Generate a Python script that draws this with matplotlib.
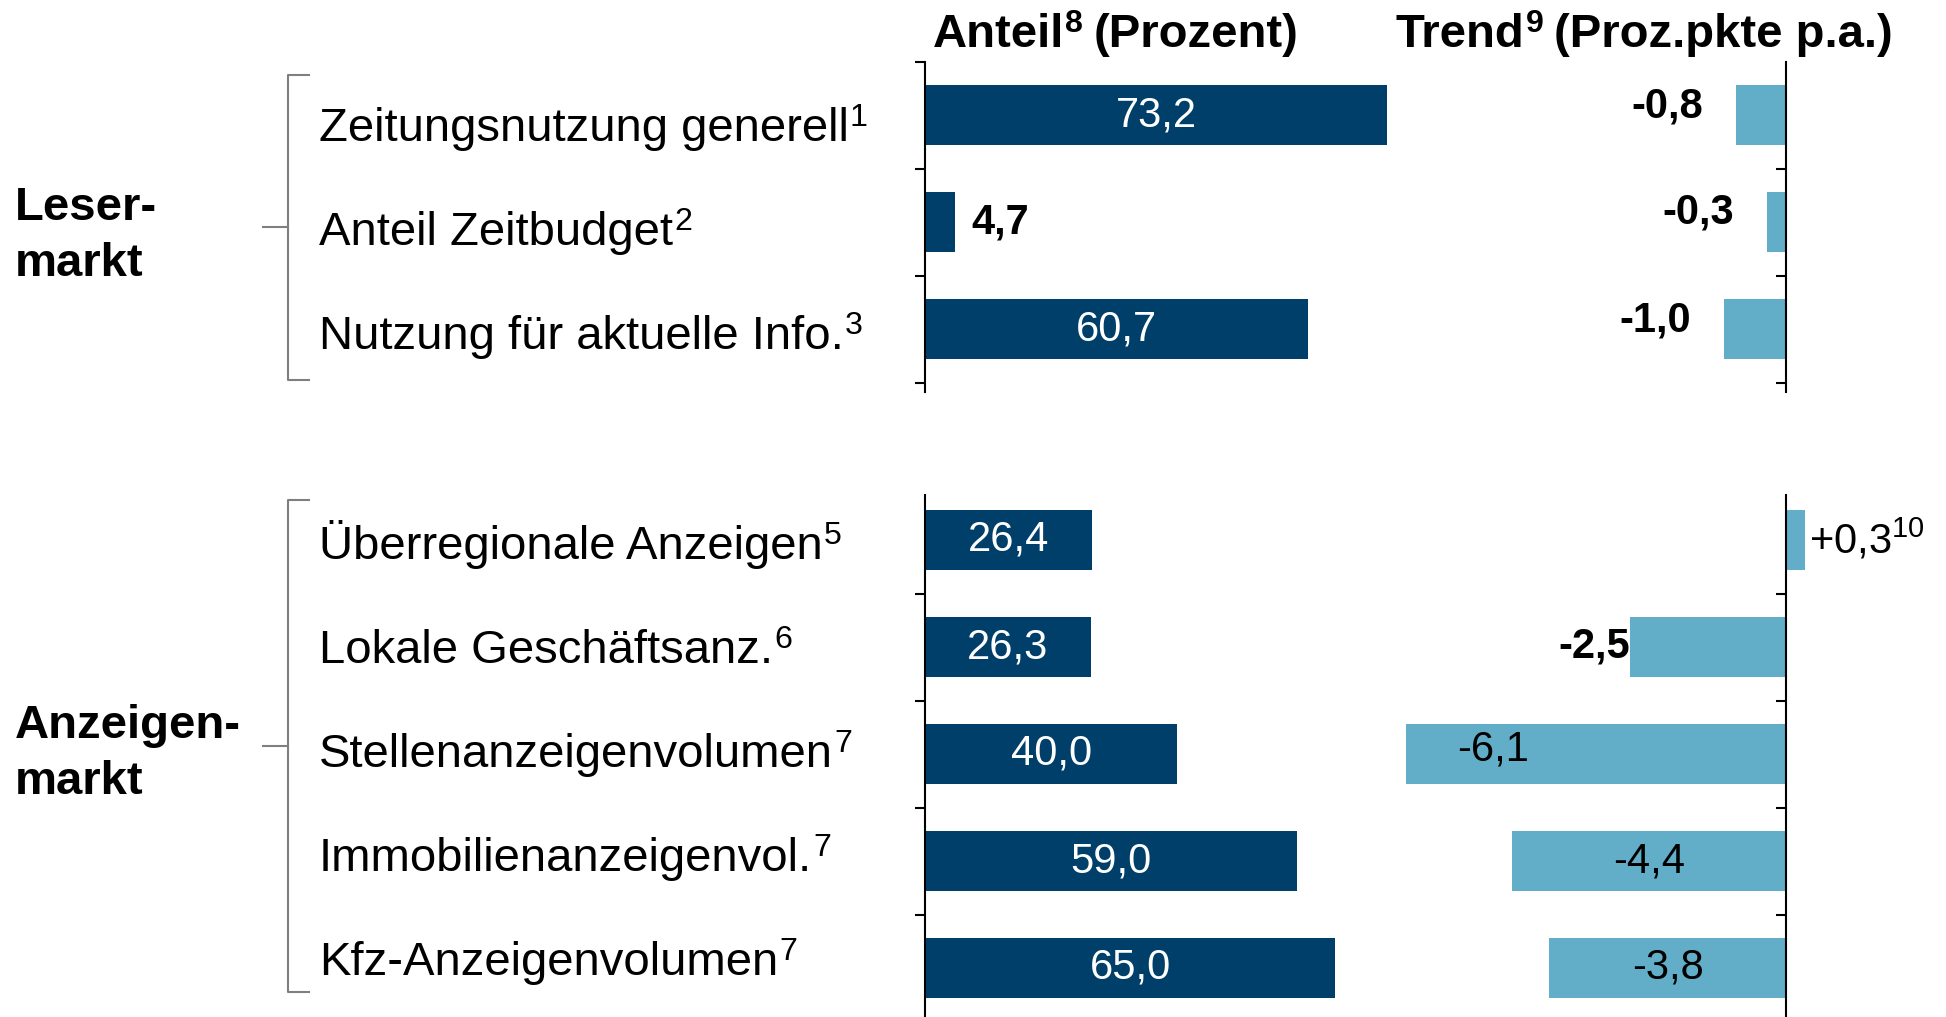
import matplotlib.pyplot as plt
from matplotlib.lines import Line2D

plt.rcParams['font.family'] = ['Liberation Sans', 'DejaVu Sans']
plt.rcParams['mathtext.fontset'] = 'custom'
plt.rcParams['mathtext.rm'] = 'Liberation Sans'
plt.rcParams['mathtext.bf'] = 'Liberation Sans:bold'

# Daten
leser_labels = ['Zeitungsnutzung generell', 'Anteil Zeitbudget', 'Nutzung für aktuelle Info.']
leser_notes = ['1', '2', '3']
leser_anteil = [73.2, 4.7, 60.7]
leser_trend = [-0.8, -0.3, -1.0]

anz_labels = ['Überregionale Anzeigen', 'Lokale Geschäftsanz.', 'Stellenanzeigenvolumen',
              'Immobilienanzeigenvol.', 'Kfz-Anzeigenvolumen']
anz_notes = ['5', '6', '7', '7', '7']
anz_anteil = [26.4, 26.3, 40.0, 59.0, 65.0]
anz_trend = [0.3, -2.5, -6.1, -4.4, -3.8]

# wie die Trend-Werte beschriftet sind
leser_modes = ['out', 'out', 'out']
anz_modes = ['sup', 'edge', 'inleft', 'center', 'center']

NAVY = '#003F6A'
LIGHT = '#62ADC8'
W, H = 1946, 1017
STEP = 107
LSTEP = 104
PT = 0.72  # px -> pt

fig = plt.figure(figsize=(W / 100, H / 100), dpi=100)
renderer = fig.canvas.get_renderer()


def sup_text(x, y, main, sup, size, weight='normal'):
    # Text mit Fussnote hochgestellt, x/y in Pixel (Grundlinie)
    t = fig.text(x / W, 1 - y / H, main, fontsize=size, fontweight=weight, va='baseline')
    bb = t.get_window_extent(renderer)
    em = size * 100 / 72
    s = fig.text((bb.x1 + 1) / W, 1 - (y - 0.32 * em) / H, sup, fontsize=size * 0.68,
                 fontweight=weight, va='baseline')
    return s


def add_ax(x0, y0, x1, y1):
    ax = fig.add_axes([x0 / W, 1 - y1 / H, (x1 - x0) / W, (y1 - y0) / H])
    ax.set_facecolor('none')
    for s in ['top', 'right', 'bottom']:
        ax.spines[s].set_visible(False)
    ax.spines['left'].set_linewidth(1.5)
    ax.tick_params(axis='y', direction='out', length=7, width=1.5, labelleft=False)
    ax.tick_params(axis='x', bottom=False, labelbottom=False)
    return ax


def fmt(v):
    return f'{v:.1f}'.replace('.', ',')


def panel(y0, y1, row0, lab0, labels, notes, anteil, trend, modes, top_tick):
    n = len(labels)
    d0 = (y0 - row0) / STEP
    d1 = (y1 - row0) / STEP
    ticks = [i + 0.5 for i in range(n)]
    ticks = [t for t in ticks if t < d1]

    # Anteil
    ax = add_ax(925, y0, 1430, y1)
    ax.set_xlim(0, 505 / 6.31)
    ax.set_ylim(d1, d0)
    ax.set_yticks(([d0] if top_tick else []) + ticks)
    ax.barh(range(n), anteil, height=0.57, color=NAVY)
    for i, v in enumerate(anteil):
        if v < 10:
            ax.annotate(fmt(v), (v, i), xytext=(17 * PT, 0), textcoords='offset points',
                        ha='left', va='center', fontsize=30, fontweight='bold')
        else:
            ax.text(v / 2, i, fmt(v), ha='center', va='center', fontsize=30, color='white')

    # Trend
    tx = add_ax(1380, y0, 1946, y1)
    tx.set_xlim((1380 - 1786) / 62.3, (1946 - 1786) / 62.3)
    tx.set_ylim(d1, d0)
    tx.set_yticks(ticks)
    tx.spines['left'].set_position(('data', 0))
    tx.barh(range(n), trend, height=0.57, color=LIGHT)
    for i, (v, m) in enumerate(zip(trend, modes)):
        if m == 'out':
            tx.annotate(fmt(v), (v, i), xytext=(-33 * PT, 9 * PT), textcoords='offset points',
                        ha='right', va='center', fontsize=30, fontweight='bold')
        elif m == 'edge':
            tx.annotate(fmt(v), (v, i), xytext=(0, 0), textcoords='offset points',
                        ha='right', va='center', fontsize=30, fontweight='bold')
        elif m == 'inleft':
            tx.annotate(fmt(v), (v, i), xytext=(51 * PT, 4 * PT), textcoords='offset points',
                        ha='left', va='center', fontsize=30)
        elif m == 'center':
            tx.text(v / 2, i, fmt(v), ha='center', va='center', fontsize=30)
        else:
            tx.annotate('+' + fmt(v) + '$^{10}$', (v, i), xytext=(4 * PT, 0),
                        textcoords='offset points', ha='left', va='center', fontsize=30)

    # Kategorien
    for i, (lab, note) in enumerate(zip(labels, notes)):
        sup_text(319, lab0 + i * LSTEP, lab, note, 34)


panel(62, 392, 115, 141, leser_labels, leser_notes, leser_anteil, leser_trend, leser_modes, True)
panel(495, 1017, 540, 559, anz_labels, anz_notes, anz_anteil, anz_trend, anz_modes, False)

# Klammern
for top, bot, mid in [(74.5, 380, 227), (500, 992, 746)]:
    xs = [309, 288, 288, 309]
    ys = [top, top, bot, bot]
    fig.add_artist(Line2D([x / W for x in xs], [1 - y / H for y in ys],
                          transform=fig.transFigure, color='#7f7f7f', lw=1.5))
    fig.add_artist(Line2D([263 / W, 288 / W], [1 - mid / H, 1 - mid / H],
                          transform=fig.transFigure, color='#7f7f7f', lw=1.5))

fig.text(15 / W, 1 - 236 / H, 'Leser-\nmarkt', fontsize=34, fontweight='bold',
         va='center', linespacing=1.35)
fig.text(15 / W, 1 - 754 / H, 'Anzeigen-\nmarkt', fontsize=34, fontweight='bold',
         va='center', linespacing=1.35)

# Ueberschriften
for x, word, note, rest in [(933, 'Anteil', '8', '(Prozent)'),
                            (1396, 'Trend', '9', '(Proz.pkte p.a.)')]:
    s = sup_text(x, 47, word, note, 34, 'bold')
    bb = s.get_window_extent(renderer)
    fig.text((bb.x1 + 10) / W, 1 - 47 / H, rest, fontsize=34, fontweight='bold',
             va='baseline')

fig.savefig('out.png', dpi=100)
